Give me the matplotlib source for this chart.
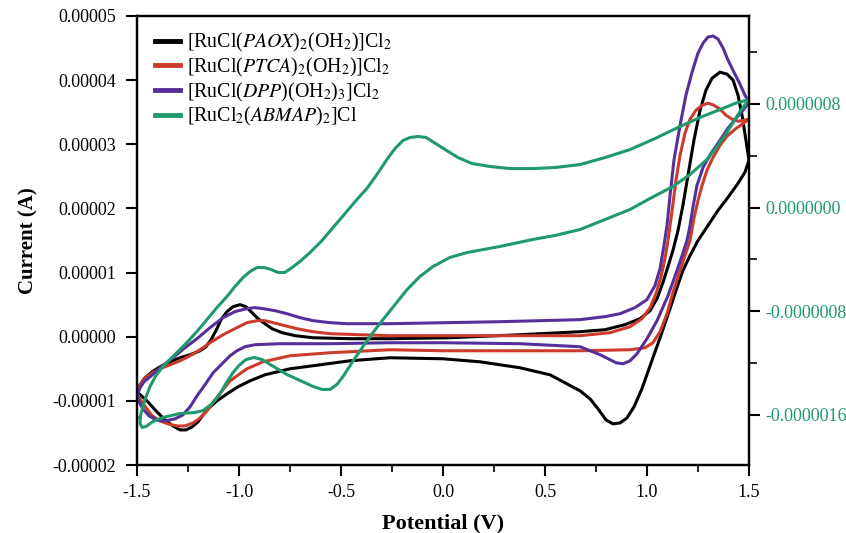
import numpy as np
import matplotlib
matplotlib.use("Agg")
from matplotlib import pyplot as plt
from matplotlib.ticker import FormatStrFormatter, MultipleLocator

plt.rcParams['font.family'] = ['Liberation Serif', 'DejaVu Serif']
plt.rcParams['mathtext.fontset'] = 'stix'
plt.rcParams['axes.unicode_minus'] = False

# potential (V) and current (uA), each loop is closed
paox_v = [-1.500, -1.485, -1.461, -1.426, -1.387, -1.338, -1.289, -1.240, -1.191, -1.162,
          -1.137, -1.113, -1.088, -1.059, -1.029, -0.995, -0.966, -0.936, -0.907, -0.873,
          -0.838, -0.789, -0.725, -0.637, -0.456, -0.260, 0.034, 0.377, 0.672, 0.794,
          0.892, 0.966, 1.015, 1.049, 1.078, 1.103, 1.127, 1.152, 1.176, 1.201,
          1.230, 1.260, 1.289, 1.319, 1.358, 1.392, 1.422, 1.446, 1.466, 1.485,
          1.500, 1.480, 1.446, 1.397, 1.348, 1.299, 1.250, 1.211, 1.176, 1.147,
          1.113, 1.064, 1.015, 0.975, 0.936, 0.902, 0.868, 0.833, 0.799, 0.760,
          0.721, 0.672, 0.598, 0.525, 0.377, 0.181, 0.000, -0.260, -0.456, -0.603,
          -0.750, -0.873, -0.946, -1.005, -1.059, -1.108, -1.147, -1.176, -1.201, -1.230,
          -1.260, -1.289, -1.324, -1.363, -1.407, -1.451, -1.500]
paox_i = [-8.59, -7.50, -6.41, -5.47, -4.69, -3.91, -3.28, -2.81, -2.19, -1.56,
          -0.47, 0.94, 2.66, 3.91, 4.69, 5.00, 4.69, 3.75, 2.81, 2.03,
          1.25, 0.63, 0.16, -0.16, -0.31, -0.31, -0.16, 0.31, 0.78, 1.09,
          1.88, 2.81, 4.06, 5.94, 8.44, 10.94, 13.44, 16.56, 20.47, 25.16,
          30.63, 35.31, 38.44, 40.31, 41.25, 40.94, 40.00, 37.66, 34.53, 30.63,
          27.50, 25.63, 23.91, 21.72, 19.69, 17.34, 15.00, 12.66, 10.31, 7.66,
          4.38, -0.16, -4.53, -8.13, -10.94, -12.66, -13.44, -13.59, -12.97, -11.25,
          -9.69, -8.44, -7.19, -5.94, -4.84, -3.91, -3.44, -3.28, -3.75, -4.38,
          -5.00, -5.94, -6.88, -7.81, -8.91, -10.00, -11.09, -12.19, -13.28, -14.06,
          -14.53, -14.53, -13.91, -12.97, -11.56, -10.00, -8.59]

ptca_v = [-1.500, -1.485, -1.461, -1.426, -1.387, -1.338, -1.289, -1.240, -1.191, -1.127,
          -1.069, -1.010, -0.961, -0.912, -0.873, -0.833, -0.775, -0.716, -0.637, -0.554,
          -0.407, -0.260, 0.279, 0.672, 0.819, 0.917, 0.975, 1.015, 1.044, 1.069,
          1.088, 1.103, 1.123, 1.142, 1.162, 1.186, 1.211, 1.240, 1.270, 1.299,
          1.328, 1.358, 1.387, 1.417, 1.446, 1.475, 1.500, 1.466, 1.431, 1.392,
          1.358, 1.324, 1.294, 1.270, 1.250, 1.230, 1.211, 1.186, 1.162, 1.127,
          1.098, 1.064, 1.029, 0.990, 0.917, 0.672, 0.000, -0.260, -0.554, -0.750,
          -0.882, -0.961, -1.044, -1.103, -1.157, -1.191, -1.225, -1.265, -1.304, -1.348,
          -1.387, -1.426, -1.451, -1.480, -1.500]
ptca_i = [-8.75, -7.50, -6.41, -5.63, -5.00, -4.38, -3.75, -2.97, -2.03, -0.63,
          0.47, 1.41, 2.19, 2.50, 2.50, 2.19, 1.72, 1.25, 0.78, 0.47,
          0.31, 0.16, 0.16, 0.16, 0.63, 1.56, 2.81, 4.53, 6.72, 9.38,
          12.19, 15.00, 19.69, 24.38, 28.28, 31.72, 33.91, 35.31, 36.09, 36.41,
          36.09, 35.47, 34.53, 33.91, 33.59, 33.75, 33.91, 33.13, 32.34, 31.25,
          29.84, 27.97, 25.94, 23.59, 21.25, 18.44, 15.00, 12.66, 10.31, 6.88,
          3.59, 0.78, -0.94, -1.72, -2.03, -2.19, -2.19, -2.03, -2.50, -2.97,
          -3.91, -5.00, -6.88, -9.22, -11.56, -12.66, -13.44, -13.91, -13.91, -13.59,
          -13.13, -12.34, -11.25, -10.00, -8.75]

dpp_v = [-1.500, -1.485, -1.466, -1.436, -1.387, -1.324, -1.265, -1.206, -1.142, -1.078,
         -1.020, -0.961, -0.922, -0.882, -0.824, -0.765, -0.701, -0.637, -0.554, -0.471,
         -0.260, 0.279, 0.672, 0.794, 0.868, 0.941, 1.000, 1.039, 1.064, 1.083,
         1.098, 1.113, 1.132, 1.162, 1.191, 1.221, 1.250, 1.275, 1.299, 1.324,
         1.348, 1.373, 1.397, 1.426, 1.456, 1.480, 1.500, 1.471, 1.441, 1.397,
         1.358, 1.314, 1.275, 1.245, 1.225, 1.211, 1.196, 1.172, 1.147, 1.103,
         1.049, 1.000, 0.951, 0.917, 0.882, 0.848, 0.819, 0.770, 0.721, 0.672,
         0.377, 0.000, -0.260, -0.554, -0.799, -0.922, -0.971, -1.010, -1.044, -1.083,
         -1.127, -1.167, -1.206, -1.240, -1.275, -1.314, -1.363, -1.407, -1.441, -1.471,
         -1.490, -1.500]
dpp_i = [-9.22, -7.97, -7.03, -6.25, -4.84, -3.28, -1.72, -0.31, 1.41, 2.97,
         3.91, 4.38, 4.53, 4.38, 4.06, 3.59, 2.97, 2.50, 2.19, 2.03,
         2.03, 2.34, 2.66, 3.13, 3.59, 4.53, 5.78, 7.97, 10.63, 14.22,
         17.34, 22.03, 27.50, 32.97, 37.66, 41.25, 44.22, 45.78, 46.72, 46.88,
         46.41, 45.00, 43.13, 41.25, 39.38, 37.66, 36.56, 35.31, 34.22, 32.50,
         30.63, 28.59, 26.41, 23.59, 20.16, 17.34, 15.00, 12.66, 10.31, 6.41,
         2.50, -0.31, -2.66, -3.75, -4.22, -4.06, -3.59, -2.81, -2.19, -1.56,
         -1.09, -0.94, -0.94, -1.09, -1.09, -1.25, -1.56, -2.19, -2.97, -4.22,
         -5.63, -7.50, -9.22, -10.94, -12.19, -12.81, -13.13, -12.97, -12.34, -11.25,
         -10.16, -9.22]

# green complex is read against the right axis
abmap_v = [-1.485, -1.475, -1.461, -1.436, -1.407, -1.373, -1.314, -1.255, -1.206, -1.157,
           -1.108, -1.059, -1.020, -0.980, -0.946, -0.912, -0.877, -0.843, -0.809, -0.775,
           -0.740, -0.701, -0.652, -0.593, -0.539, -0.480, -0.422, -0.373, -0.324, -0.275,
           -0.235, -0.196, -0.162, -0.123, -0.083, -0.044, 0.010, 0.074, 0.142, 0.230,
           0.328, 0.441, 0.549, 0.672, 0.794, 0.917, 1.039, 1.162, 1.260, 1.358,
           1.431, 1.500, 1.456, 1.392, 1.343, 1.294, 1.211, 1.127, 1.015, 0.917,
           0.794, 0.672, 0.549, 0.441, 0.279, 0.118, 0.034, -0.049, -0.113, -0.176,
           -0.235, -0.294, -0.343, -0.392, -0.446, -0.490, -0.520, -0.554, -0.593, -0.637,
           -0.701, -0.765, -0.814, -0.848, -0.887, -0.926, -0.966, -1.000, -1.029, -1.064,
           -1.098, -1.137, -1.176, -1.216, -1.289, -1.373, -1.422, -1.456, -1.475, -1.485,
           -1.485]
abmap_i = [-1.623, -1.561, -1.484, -1.383, -1.298, -1.229, -1.136, -1.043, -0.958, -0.866,
           -0.773, -0.688, -0.611, -0.541, -0.495, -0.464, -0.464, -0.479, -0.502, -0.502,
           -0.464, -0.417, -0.348, -0.255, -0.155, -0.046, 0.062, 0.147, 0.255, 0.371,
           0.456, 0.518, 0.541, 0.549, 0.541, 0.502, 0.448, 0.386, 0.340, 0.317,
           0.301, 0.301, 0.309, 0.332, 0.386, 0.448, 0.533, 0.626, 0.696, 0.757,
           0.804, 0.835, 0.742, 0.580, 0.471, 0.371, 0.255, 0.162, 0.070, -0.015,
           -0.093, -0.170, -0.216, -0.247, -0.301, -0.348, -0.386, -0.456, -0.533, -0.634,
           -0.750, -0.866, -0.966, -1.074, -1.198, -1.306, -1.368, -1.406, -1.406, -1.383,
           -1.337, -1.291, -1.244, -1.213, -1.175, -1.159, -1.175, -1.221, -1.275, -1.360,
           -1.453, -1.522, -1.569, -1.584, -1.592, -1.623, -1.654, -1.692, -1.700, -1.669,
           -1.623]

labels = [r'[RuCl($\mathit{PAOX}$)$_2$(OH$_2$)]Cl$_2$',
          r'[RuCl($\mathit{PTCA}$)$_2$(OH$_2$)]Cl$_2$',
          r'[RuCl($\mathit{DPP}$)(OH$_2$)$_3$]Cl$_2$',
          r'[RuCl$_2$($\mathit{ABMAP}$)$_2$]Cl']
colors = ['#000000', '#cc3b2b', '#56309a', '#1f9a6c']

fig = plt.figure(figsize=(8.46, 5.33), dpi=100)
ax = fig.add_axes([137/846, 68/533, 612/846, 449/533])
ax2 = ax.twinx()

lw = 2.2
h = []
for v, i, c, lab in zip([paox_v, ptca_v, dpp_v], [paox_i, ptca_i, dpp_i], colors[:3], labels[:3]):
    ln, = ax.plot(v, np.array(i) * 1e-6, color=c, lw=lw, label=lab, solid_joinstyle='round')
    h.append(ln)
ln, = ax2.plot(abmap_v, np.array(abmap_i) * 1e-6, color=colors[3], lw=lw, label=labels[3],
               solid_joinstyle='round')
h.append(ln)

ax.set_xlim(-1.5, 1.5)
ax.set_ylim(-2e-5, 5e-5)
ax2.set_ylim(-1.99e-6, 1.48e-6)

ax.xaxis.set_major_locator(MultipleLocator(0.5))
ax.xaxis.set_minor_locator(MultipleLocator(0.25))
ax.xaxis.set_major_formatter(FormatStrFormatter('%.1f'))
ax.yaxis.set_major_locator(MultipleLocator(1e-5))
ax.yaxis.set_major_formatter(FormatStrFormatter('%.5f'))
ax2.yaxis.set_major_locator(MultipleLocator(8e-7))
ax2.yaxis.set_minor_locator(MultipleLocator(4e-7))
ax2.yaxis.set_major_formatter(FormatStrFormatter('%.7f'))

ax.tick_params(axis='both', which='major', direction='out', length=8, width=1.5, labelsize=13)
ax.tick_params(axis='x', pad=6)
ax.tick_params(axis='y', pad=7)
ax.tick_params(axis='x', which='minor', direction='out', length=5, width=1.2)
ax.tick_params(axis='y', which='minor', left=False)
ax2.tick_params(axis='y', which='major', direction='out', length=8, width=1.5, labelsize=13,
                labelcolor=colors[3])
ax2.tick_params(axis='y', which='minor', direction='out', length=6, width=1.2)
for a in (ax, ax2):
    for s in a.spines.values():
        s.set_linewidth(1.6)

ax.set_xlabel('Potential (V)', fontsize=16, fontweight='bold', labelpad=9)
ax.set_ylabel('Current (A)', fontsize=15, fontweight='bold', labelpad=10)

ax2.legend(handles=h, loc='upper left', bbox_to_anchor=(18/612, 0.966), frameon=False,
           fontsize=14.3, handlelength=1.25, handletextpad=0.35, labelspacing=0.08,
           borderaxespad=0, borderpad=0)
for line in ax2.get_legend().get_lines():
    line.set_linewidth(3.5)

fig.savefig('out.png', dpi=100)
